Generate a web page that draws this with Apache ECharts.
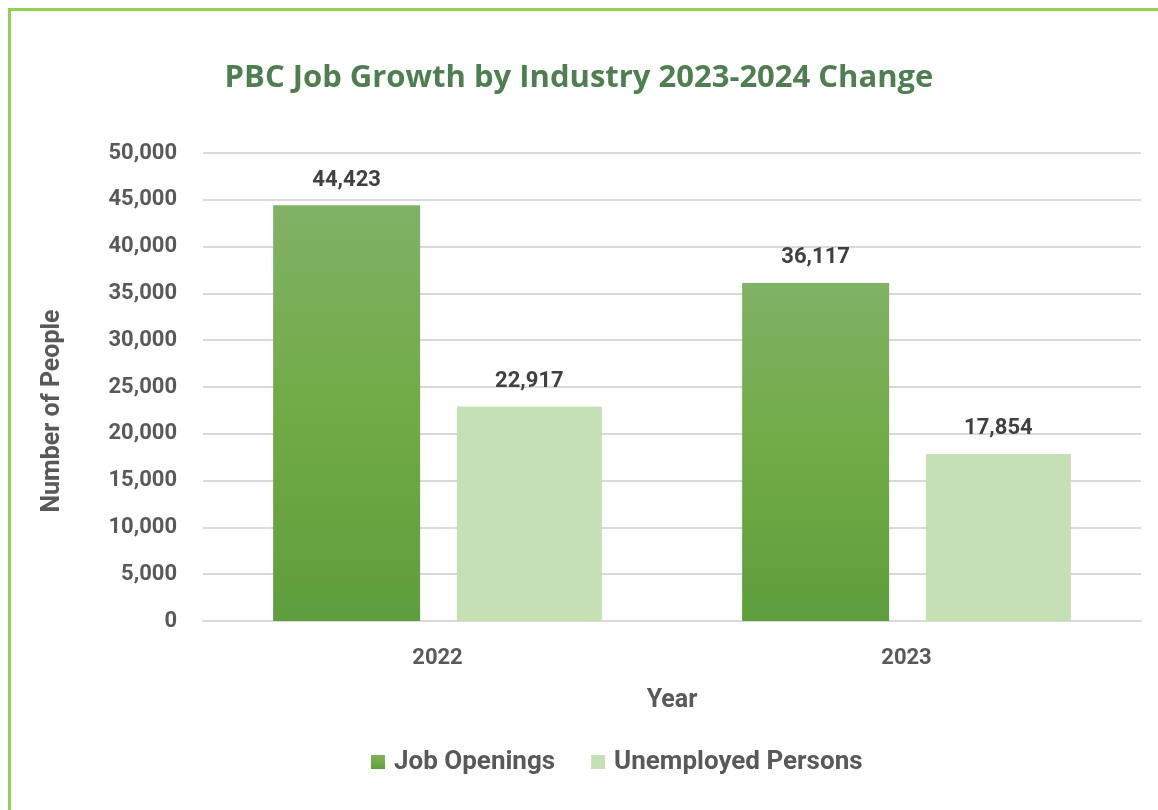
<!DOCTYPE html>
<html>
<head>
<meta charset="utf-8">
<script src="https://cdn.jsdelivr.net/npm/echarts@6/dist/echarts.min.js"></script>
<style>
html,body{margin:0;padding:0;background:#fff;}
#main{width:1158px;height:810px;}
</style>
</head>
<body>
<div id="main"></div>
<script>
const categories = ['2022', '2023'];
const jobOpenings = [44423, 36117];
const unemployed = [22917, 17854];
const seriesNames = ['Job Openings', 'Unemployed Persons'];
const titleText = 'PBC Job Growth by Industry 2023-2024 Change';

const chart = echarts.init(document.getElementById('main'));
const labelFont = {fontFamily: 'Roboto', fontWeight: 'bold', fontSize: 22, color: '#404040'};
const fmt = v => v.toLocaleString('en-US');

chart.setOption({
  animation: false,
  backgroundColor: '#fff',
  graphic: [{
    type: 'rect', left: 7, top: 7, z: -1,
    shape: {width: 1170, height: 820},
    style: {fill: 'none', stroke: '#92d050', lineWidth: 3}
  }],
  title: {
    text: titleText, left: 'center', top: 58,
    textStyle: {fontFamily: 'Open Sans', fontWeight: 'bold', fontSize: 31, color: '#4f7f51'}
  },
  legend: {
    bottom: 30, left: 366, itemWidth: 14, itemHeight: 14, itemGap: 36,
    icon: 'rect',
    textStyle: {fontFamily: 'Roboto', fontWeight: 'bold', fontSize: 26, color: '#595959', padding: [0, 0, 0, 4]}
  },
  grid: {left: 203, right: 17, top: 153, bottom: 189, containLabel: false},
  xAxis: {
    type: 'category', data: categories,
    name: 'Year', nameLocation: 'middle', nameGap: 67,
    nameTextStyle: {fontFamily: 'Roboto', fontWeight: 'bold', fontSize: 25, color: '#595959'},
    axisLine: {lineStyle: {color: '#d9d9d9', width: 2}},
    axisTick: {show: false},
    axisLabel: {fontFamily: 'Roboto', fontWeight: 'bold', fontSize: 22, color: '#595959', margin: 26}
  },
  yAxis: {
    type: 'value', min: 0, max: 50000, interval: 5000,
    name: 'Number of People', nameLocation: 'middle', nameGap: 138,
    nameTextStyle: {fontFamily: 'Roboto', fontWeight: 'bold', fontSize: 25, color: '#595959', padding: [0, 48, 0, 0]},
    axisLine: {show: false}, axisTick: {show: false},
    splitLine: {lineStyle: {color: '#d9d9d9', width: 2}},
    axisLabel: {fontFamily: 'Roboto', fontWeight: 'bold', fontSize: 22, color: '#595959', margin: 26,
      formatter: v => fmt(v)}
  },
  series: [{
    name: seriesNames[0], type: 'bar', data: jobOpenings,
    barWidth: 147, barGap: '25%',
    itemStyle: {color: new echarts.graphic.LinearGradient(0, 0, 0, 1, [
      {offset: 0, color: '#80b266'}, {offset: 0.5, color: '#70ab45'}, {offset: 1, color: '#5f9e3d'}])},
    label: Object.assign({show: true, position: 'top', distance: 14, formatter: p => fmt(p.value)}, labelFont)
  }, {
    name: seriesNames[1], type: 'bar', data: unemployed,
    barWidth: 145,
    itemStyle: {color: '#c5e0b4'},
    label: Object.assign({show: true, position: 'top', distance: 14, formatter: p => fmt(p.value)}, labelFont)
  }]
});
</script>
</body>
</html>
